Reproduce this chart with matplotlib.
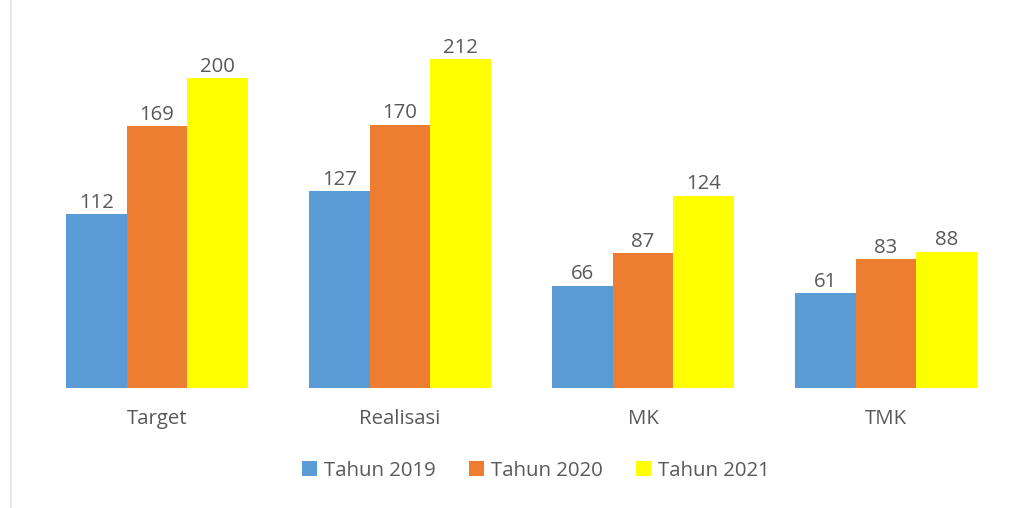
import numpy as np
import matplotlib.pyplot as plt

categories = ["Target", "Realisasi", "MK", "TMK"]
series_names = ["Tahun 2019", "Tahun 2020", "Tahun 2021"]
tahun_2019 = [112, 127, 66, 61]
tahun_2020 = [169, 170, 87, 83]
tahun_2021 = [200, 212, 124, 88]
colors = ["#5b9bd5", "#ed7d31", "#ffff00"]

plt.rcParams['font.family'] = ['Open Sans', 'DejaVu Sans']
text_color = "#595959"
fs = 14.7

W, H = 1019, 508
fig = plt.figure(figsize=(W / 100, H / 100), dpi=100)
# plot area in pixels: left 35.5, right 1007.5, baseline at y=388
ax = fig.add_axes([35.5 / W, (H - 388) / H, 972 / W, 372 / H])

x = np.arange(len(categories))
width = 0.25
for i, (vals, name, c) in enumerate(zip([tahun_2019, tahun_2020, tahun_2021], series_names, colors)):
    bars = ax.bar(x + (i - 1) * width, vals, width, color=c, label=name)
    ax.bar_label(bars, padding=1, fontsize=fs, color=text_color)

ax.set_xlim(-0.5, len(categories) - 0.5)
ax.set_ylim(0, 240)
ax.set_yticks([])
ax.set_xticks(x)
ax.set_xticklabels(categories, fontsize=fs, color=text_color)
ax.tick_params(axis='x', length=0, pad=15)
for s in ax.spines.values():
    s.set_visible(False)

leg = fig.legend(loc='center', bbox_to_anchor=(536 / W, (H - 471) / H), ncol=3,
                 frameon=False, fontsize=fs, handlelength=0.75, handleheight=0.75,
                 handletextpad=0.35, columnspacing=1.6)
for t in leg.get_texts():
    t.set_color(text_color)

# thin frame edge on the left
fig.add_artist(plt.Line2D([10.5 / W, 10.5 / W], [0, 1], color="#e4e4e4", lw=1.2))

fig.savefig("out.png", dpi=100)
